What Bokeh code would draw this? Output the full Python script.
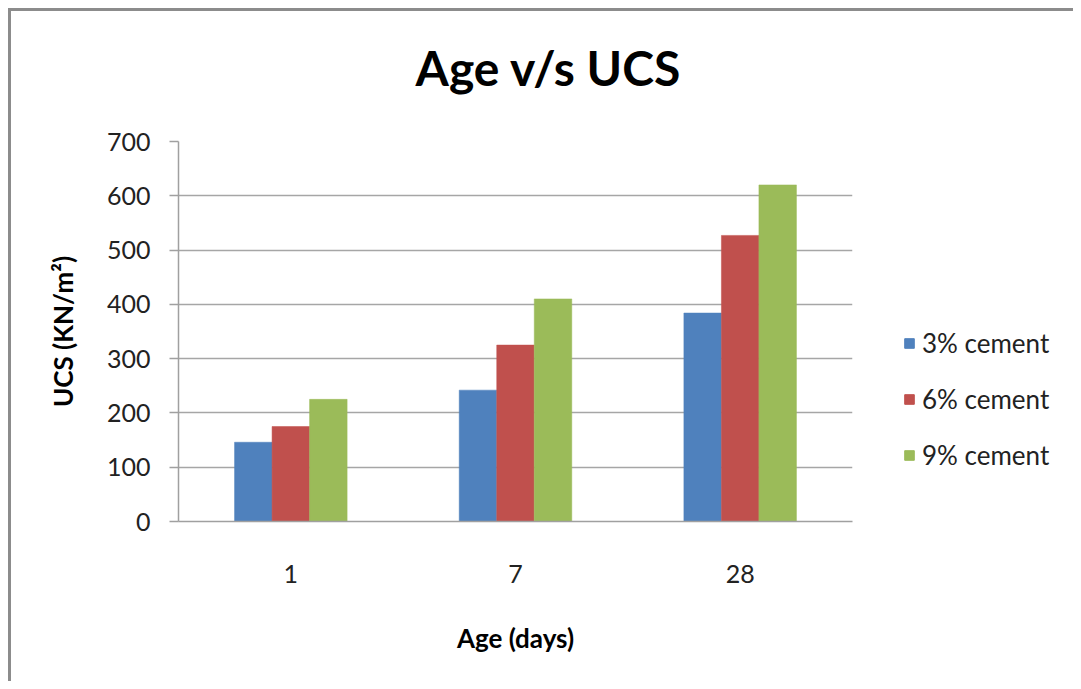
from bokeh.plotting import figure
from bokeh.layouts import row, column
from bokeh.models import (FactorRange, Range1d, Legend, LegendItem, Label,
                          SingleIntervalTicker, ColumnDataSource)
from bokeh.transform import dodge
from bokeh.embed import file_html
from bokeh.resources import INLINE

ages = ["1", "7", "28"]
cement_3 = [146, 242, 384]
cement_6 = [175, 325, 527]
cement_9 = [225, 410, 620]
series_names = ["3% cement", "6% cement", "9% cement"]
colors = ["#4F81BD", "#C0504D", "#9BBB59"]
title_text = "Age v/s UCS"

FONT = "Lato"
O = 11              # content origin on the page (margin 8 + border 3)
RIGHT = 1073        # right edge of the chart area on the page
BOTTOM = 681        # bottom edge of the chart area on the page
SPLIT = 870         # page x where the legend figure starts
TOPH = 115          # height of the title strip
ROWTOP = O + TOPH   # page y where plot + legend start
HP = BOTTOM - ROWTOP
FRAME_TOP, FRAME_BOTTOM = 141, 521

source = ColumnDataSource(data=dict(age=ages, c3=cement_3, c6=cement_6, c9=cement_9))

# ---- title strip ----
pt = figure(width=RIGHT - O, height=TOPH, x_range=Range1d(0, 1), y_range=Range1d(0, 1),
            x_axis_location=None, y_axis_location=None, output_backend="svg",
            toolbar_location=None, min_border=0)
pt.outline_line_color = None
pt.grid.visible = False
pt.add_layout(Label(x=(548 - O) / (RIGHT - O), y=1 - (67 - O) / TOPH, text=title_text,
                    text_align="center", text_baseline="alphabetic",
                    text_font=FONT, text_font_size="48px", text_font_style="bold",
                    text_color="black"))

# ---- main chart ----
p = figure(x_range=FactorRange(*ages, range_padding=0), y_range=Range1d(0, 700),
           width=SPLIT - O, height=HP, output_backend="svg", toolbar_location=None,
           min_border_left=178 - O, min_border_right=SPLIT - 852,
           min_border_top=FRAME_TOP - ROWTOP, min_border_bottom=BOTTOM - FRAME_BOTTOM)
p.outline_line_color = None
p.background_fill_color = "white"
p.border_fill_color = "white"

bw = 0.167
for col, off, c in zip(["c3", "c6", "c9"], [-bw, 0, bw], colors):
    p.vbar(x=dodge("age", off, range=p.x_range), top=col, width=bw, source=source,
           fill_color=c, line_color=c, line_width=0.5)

p.yaxis.ticker = SingleIntervalTicker(interval=100)
p.yaxis.axis_line_color = "#a0a0a0"
p.yaxis.axis_line_width = 1.5
p.yaxis.major_tick_line_color = "#a0a0a0"
p.yaxis.major_tick_line_width = 1.5
p.yaxis.major_tick_out = 9
p.yaxis.major_tick_in = 0
p.yaxis.minor_tick_line_color = None
p.yaxis.major_label_standoff = 19
p.yaxis.major_label_text_font = FONT
p.yaxis.major_label_text_font_size = "25px"
p.yaxis.major_label_text_color = "#222222"
p.yaxis.axis_label = "UCS (KN/m²)"
p.yaxis.axis_label_text_font = FONT
p.yaxis.axis_label_text_font_size = "26px"
p.yaxis.axis_label_text_font_style = "bold"
p.yaxis.axis_label_text_color = "black"
p.yaxis.axis_label_standoff = 25

p.xaxis.axis_line_color = "#a0a0a0"
p.xaxis.axis_line_width = 1.5
p.xaxis.major_tick_line_color = None
p.xaxis.major_tick_out = 0
p.xaxis.major_tick_in = 0
p.xaxis.minor_tick_line_color = None
p.xaxis.major_label_standoff = 43
p.xaxis.major_label_text_font = FONT
p.xaxis.major_label_text_font_size = "25px"
p.xaxis.major_label_text_color = "#222222"
p.xaxis.axis_label = "Age (days)"
p.xaxis.axis_label_text_font = FONT
p.xaxis.axis_label_text_font_size = "26px"
p.xaxis.axis_label_text_font_style = "bold"
p.xaxis.axis_label_text_color = "black"
p.xaxis.axis_label_standoff = 36

p.xgrid.grid_line_color = None
p.ygrid.grid_line_color = "#a6a6a6"
p.ygrid.grid_line_width = 1.5

# ---- legend panel (frame aligned with the chart frame) ----
pl = figure(width=RIGHT - SPLIT, height=HP, x_range=Range1d(0, 1), y_range=Range1d(0, 1),
            x_axis_location=None, y_axis_location=None, output_backend="svg",
            toolbar_location=None, min_border_left=903 - SPLIT, min_border_right=0,
            min_border_top=FRAME_TOP - ROWTOP, min_border_bottom=BOTTOM - FRAME_BOTTOM)
pl.outline_line_color = None
pl.grid.visible = False
pl.background_fill_color = "white"
pl.border_fill_color = "white"
# legend swatches: same series, drawn off-range in this panel (only the legend shows)
swatches = [pl.vbar(x=col, top=col, width=0.1, source=source, fill_color=c, line_color=c)
            for col, c in zip(["c3", "c6", "c9"], colors)]
items = [LegendItem(label=n, renderers=[r]) for n, r in zip(series_names, swatches)]
legend = Legend(items=items, location=(0, FRAME_BOTTOM - 471), orientation="vertical",
                glyph_width=12, glyph_height=12, label_standoff=7,
                label_text_font=FONT, label_text_font_size="26px",
                label_text_color="#222222", label_height=32, spacing=24,
                padding=0, margin=0, border_line_color=None,
                background_fill_alpha=0)
pl.add_layout(legend, "center")

layout = column(pt, row(p, pl, spacing=0), spacing=0)
layout.margin = (8, 0, 0, 8)
layout.styles = {"border-top": "3px solid #8c8c8c", "border-left": "3px solid #8c8c8c",
                 "box-sizing": "content-box", "overflow": "hidden"}

open("out.html", "w").write(file_html(layout, INLINE))
